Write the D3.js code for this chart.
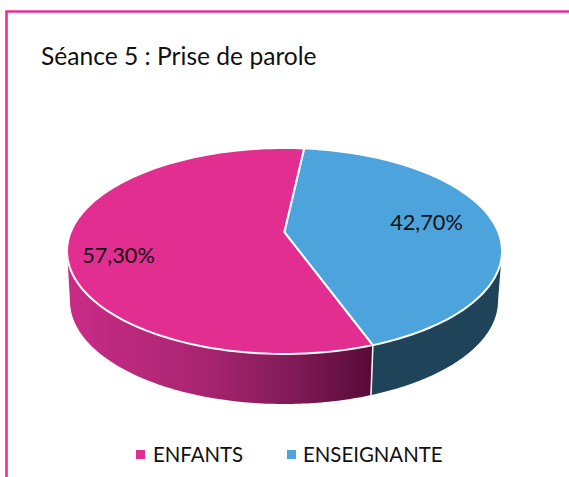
<!DOCTYPE html>
<html><head><meta charset="utf-8">
<style>html,body{margin:0;padding:0;background:#fff}svg{display:block}text{font-family:Lato,"Open Sans",sans-serif;fill:#111}</style>
<script src="https://cdn.jsdelivr.net/npm/d3@7"></script></head>
<body><div id="c"></div>
<script>
const categories = ["ENFANTS", "ENSEIGNANTE"];
const values = [57.3, 42.7];
const labels = ["57,30%", "42,70%"];
const colors = ["#E22E90", "#4DA3DB"];
const title = "Séance 5 : Prise de parole";

const W = 569, H = 477;
const svg = d3.select("#c").append("svg").attr("width", W).attr("height", H);
const DEG = Math.PI / 180;

// frame
svg.append("path").attr("d", "M6.5,477V11.5H569").attr("fill", "none").attr("stroke", "#E8309A").attr("stroke-width", 2.6);

// perspective projection of a unit circle
const b = -0.184, k = Math.sqrt(1 - b * b);
const top_ = { cx: 284.5, cy: 251, rx: 217.5, ry: 103 };
const bot = { cx: 284, cy: 301, rx: 214, ry: 103 };
function proj(t, e) {
  const u = Math.sin(t), v = -Math.cos(t), d = 1 + b * v;
  return [e.cx + e.rx * u * k / d, e.cy + e.ry * (v + b) / d];
}
const arcs = d3.pie().sort(null).value(d => d).startAngle(160 * DEG).endAngle(520 * DEG)(values);
const samples = (a, z) => d3.range(0, 121).map(i => a + (z - a) * i / 120);
const line = d3.line();

const defs = svg.append("defs");
const grad = defs.append("linearGradient").attr("id", "wall").attr("gradientUnits", "userSpaceOnUse")
  .attr("x1", 68).attr("x2", 372).attr("y1", 0).attr("y2", 0);
grad.append("stop").attr("offset", 0).attr("stop-color", "#C92C87");
grad.append("stop").attr("offset", 0.45).attr("stop-color", "#A82470");
grad.append("stop").attr("offset", 0.75).attr("stop-color", "#7E1A55");
grad.append("stop").attr("offset", 1).attr("stop-color", "#590A38");

// visible front wall limits: the seam angle and the two silhouette angles
const wallLimit = Math.acos(b);
const seam = arcs[0].startAngle;
const front = [
  [seam, 2 * Math.PI - wallLimit, "url(#wall)"],
  [wallLimit, seam, "#1F4459"]
];
front.forEach(([a, z, fill]) => {
  const s = samples(a, z);
  const pts = s.map(t => proj(t, top_)).concat(s.slice().reverse().map(t => proj(t, bot)));
  svg.append("path").attr("d", line(pts) + "Z").attr("fill", fill);
});
svg.append("path").attr("d", line([proj(seam, top_), proj(seam, bot)]))
  .attr("stroke", "#fff").attr("stroke-width", 1.5).attr("fill", "none");

// top face
const apex = [top_.cx, top_.cy + top_.ry * b];
arcs.forEach((d, i) => {
  const pts = [apex].concat(samples(d.startAngle, d.endAngle).map(t => proj(t, top_)));
  svg.append("path").attr("d", line(pts) + "Z").attr("fill", colors[i])
    .attr("stroke", "#fff").attr("stroke-width", 2).attr("stroke-linejoin", "round");
});

// labels
const labelPos = [[118.5, 255], [426.5, 222]];
labels.forEach((t, i) => {
  svg.append("text").attr("x", labelPos[i][0]).attr("y", labelPos[i][1]).attr("dy", "0.35em")
    .attr("text-anchor", "middle").style("font-size", "21.7px").text(t);
});

// title
svg.append("text").attr("x", 41).attr("y", 65).style("font-size", "24.6px").text(title);

// legend
const legendX = [136, 287], legendText = [153, 303];
categories.forEach((c, i) => {
  svg.append("rect").attr("x", legendX[i]).attr("y", 450).attr("width", 9).attr("height", 9).attr("fill", colors[i]);
  svg.append("text").attr("x", legendText[i]).attr("y", 454.5).attr("dy", "0.35em").style("font-size", "20.4px").text(c);
});
</script></body></html>
